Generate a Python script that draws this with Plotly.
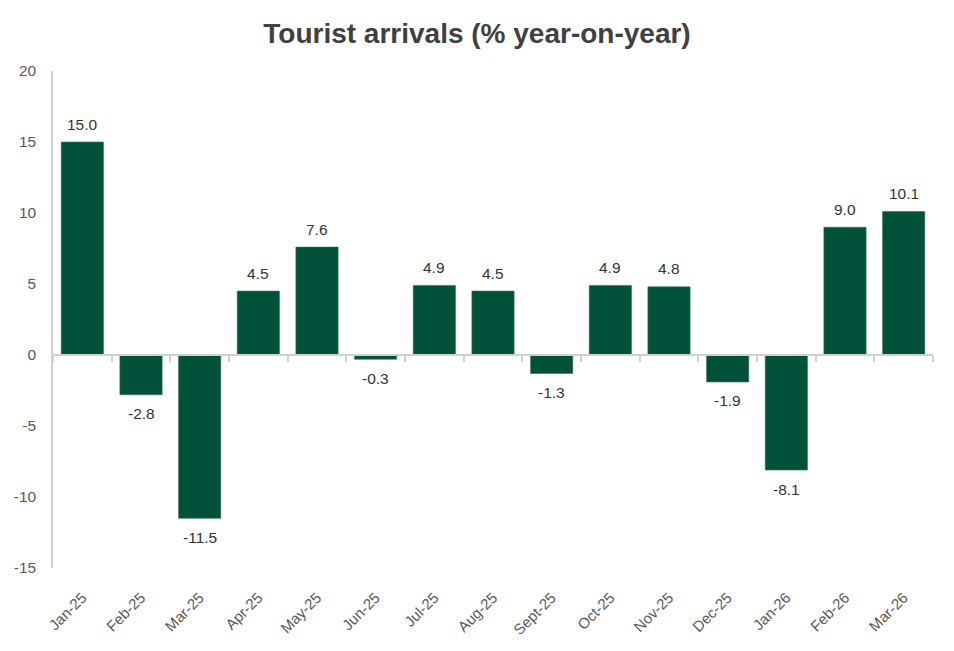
import plotly.graph_objects as go

months = ["Jan-25", "Feb-25", "Mar-25", "Apr-25", "May-25", "Jun-25", "Jul-25", "Aug-25",
          "Sept-25", "Oct-25", "Nov-25", "Dec-25", "Jan-26", "Feb-26", "Mar-26"]
values = [15.0, -2.8, -11.5, 4.5, 7.6, -0.3, 4.9, 4.5, -1.3, 4.9, 4.8, -1.9, -8.1, 9.0, 10.1]
y_ticks = [20, 15, 10, 5, 0, -5, -10, -15]
y_range = [-15, 20]

bar_color = "#02513b"
axis_color = "#d0d0d0"
text_color = "#595959"
font_fam = "Liberation Sans, Arial"

fig = go.Figure()
fig.add_trace(go.Bar(
    x=months, y=values,
    marker=dict(color=bar_color, line=dict(color="#3a6e5c", width=0.6)),
    width=0.72,
    hoverinfo="skip",
))
# invisible trace to anchor the zero-line tick axis
fig.add_trace(go.Scatter(
    x=months, y=[0]*len(months), xaxis="x2", mode="markers",
    marker=dict(opacity=0), hoverinfo="skip", showlegend=False,
))

for m, v in zip(months, values):
    fig.add_annotation(
        x=m, y=v, text=f"{v:.1f}", showarrow=False,
        yanchor="middle", yshift=18 if v >= 0 else -19,
        font=dict(family=font_fam, size=15.5, color="#333333"),
    )

zero_pos = (0 - y_range[0]) / (y_range[1] - y_range[0])

fig.update_layout(
    width=954, height=651,
    margin=dict(l=53, r=21, t=71, b=83),
    paper_bgcolor="white", plot_bgcolor="white",
    showlegend=False,
    title=dict(text="<b>Tourist arrivals (% year-on-year)</b>", x=0.5, xanchor="center",
               y=1 - 33/651, yanchor="middle",
               font=dict(family=font_fam, size=28, color="#404040")),
    xaxis=dict(
        type="category", showline=False, showgrid=False, zeroline=False,
        tickangle=-45, ticks="outside", ticklen=14, tickcolor="rgba(0,0,0,0)",
        tickfont=dict(family=font_fam, size=15, color=text_color),
        range=[-0.5, len(months) - 0.5],
    ),
    xaxis2=dict(
        type="category", overlaying="x", anchor="free", position=zero_pos,
        showline=True, linecolor=axis_color, linewidth=1.5,
        ticks="outside", tickson="boundaries", ticklen=6, tickcolor=axis_color, tickwidth=1.5,
        showticklabels=False, showgrid=False, zeroline=False,
        range=[-0.5, len(months) - 0.5],
    ),
    yaxis=dict(
        range=y_range, tickvals=y_ticks, ticktext=[str(t) for t in y_ticks],
        showgrid=False, zeroline=False,
        showline=True, linecolor=axis_color, linewidth=1.5,
        ticks="outside", ticklen=12, tickcolor="rgba(0,0,0,0)",
        tickfont=dict(family=font_fam, size=15.5, color=text_color),
    ),
)

fig.write_html("out.html")
